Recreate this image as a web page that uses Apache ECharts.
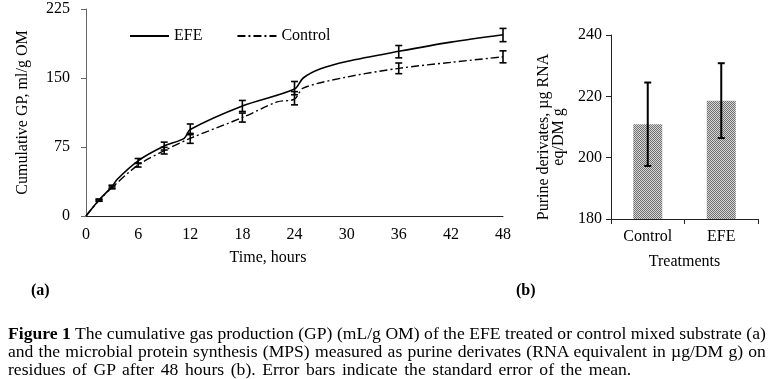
<!DOCTYPE html>
<html>
<head>
<meta charset="utf-8">
<script src="https://cdn.jsdelivr.net/npm/echarts@6/dist/echarts.min.js"></script>
<style>
  html, body { margin: 0; padding: 0; background: #fff; }
  #chart { position: absolute; left: 0; top: 0; width: 771px; height: 379px; }
  .caption {
    position: absolute; left: 8px; top: 325px; width: 689px;
    transform: scaleX(1.1); transform-origin: 0 0;
    font-family: "Liberation Serif", serif; font-size: 16px; line-height: 18px; color: #000;
  }
  .caption div { white-space: nowrap; }
  .caption .j { text-align: justify; text-align-last: justify; }
  .caption .last { word-spacing: 2px; }
</style>
</head>
<body>
<div id="chart"></div>
<div class="caption">
  <div class="j"><b>Figure 1</b> The cumulative gas production (GP) (mL/g OM) of the EFE treated or control mixed substrate (a)</div>
  <div class="j">and the microbial protein synthesis (MPS) measured as purine derivates (RNA equivalent in µg/DM g) on</div>
  <div class="last">residues of GP after 48 hours (b). Error bars indicate the standard error of the mean.</div>
</div>
<script>
// (a) cumulative gas production curves
const efeHours = [0, 1.5, 3, 3.6, 6, 9, 11.3, 12, 18, 24, 25, 27, 30, 36, 42, 48]
const efeGP = [0, 17.4, 32, 40, 60, 76, 84.4, 94, 119.6, 138, 150, 160, 168, 179, 189, 197]
const ctrlHours = [0, 1.5, 3, 6, 9, 12, 18, 22, 24, 25, 30, 36, 42, 48]
const ctrlGP = [0, 17, 31, 55.4, 71, 84.4, 107, 124, 127, 139, 151, 160.5, 167, 173]

// measured points with standard errors
const sampleHours = [1.5, 3, 6, 9, 12, 18, 24, 36, 48]
const efeMean = [17.4, 32, 59.8, 76, 94.2, 119.6, 139, 178.6, 196.7]
const efeSE = [1, 1.5, 2.7, 4.3, 5.8, 6, 7.2, 6.7, 7.2]
const ctrlMean = [17, 31, 55.4, 71, 84.4, 107, 128, 160.5, 173]
const ctrlSE = [1, 1.5, 2.2, 3.6, 5.4, 4.9, 7.2, 5.8, 6.5]

// (b) purine derivates
const treatments = ['Control', 'EFE']
const purine = [210.9, 218.6]
const purineSE = [13.6, 12.2]

const FONT = 'Liberation Serif'
const txt = { color: '#000', fontFamily: FONT, fontSize: 16 }

function pairs(xs, ys) { return xs.map((x, i) => [x, ys[i]]) }
function errRows(xs, m, se) { return xs.map((x, i) => [x, m[i] - se[i], m[i] + se[i]]) }

function errorBar(cap, width) {
  return function (params, api) {
    const top = api.coord([api.value(0), api.value(2)])
    const bot = api.coord([api.value(0), api.value(1)])
    const style = { stroke: '#000', lineWidth: width }
    return {
      type: 'group',
      children: [
        { type: 'line', shape: { x1: top[0], y1: top[1], x2: bot[0], y2: bot[1] }, style },
        { type: 'line', shape: { x1: top[0] - cap, y1: top[1], x2: top[0] + cap, y2: top[1] }, style },
        { type: 'line', shape: { x1: bot[0] - cap, y1: bot[1], x2: bot[0] + cap, y2: bot[1] }, style },
      ],
    }
  }
}

// halftone fill for the bars
const pat = document.createElement('canvas')
pat.width = 2; pat.height = 2
const pc = pat.getContext('2d')
pc.fillStyle = '#d6d6d6'; pc.fillRect(0, 0, 2, 2)
pc.fillStyle = '#707070'; pc.fillRect(0, 0, 1, 1); pc.fillRect(1, 1, 1, 1)

const chart = echarts.init(document.getElementById('chart'))
chart.setOption({
  animation: false,
  textStyle: { fontFamily: FONT },
  grid: [
    { left: 86, top: 9, width: 417, height: 207 },
    { left: 611, top: 35, width: 147, height: 184 },
  ],
  legend: {
    data: ['EFE', 'Control'],
    left: 129, top: 28, padding: 0,
    itemWidth: 39, itemHeight: 14, itemGap: 34,
    itemStyle: { opacity: 0 },
    textStyle: txt,
  },
  xAxis: [
    {
      gridIndex: 0, type: 'value', min: 0, max: 48, interval: 6,
      name: 'Time, hours', nameLocation: 'middle', nameGap: 34,
      nameTextStyle: { ...txt, padding: [0, 53, 0, 0] },
      axisLine: { lineStyle: { color: '#222', width: 1 } },
      axisTick: { show: false },
      axisLabel: { ...txt, margin: 11 },
      splitLine: { show: false },
    },
    {
      gridIndex: 1, type: 'category', data: treatments,
      name: 'Treatments', nameLocation: 'middle', nameGap: 35,
      nameTextStyle: txt,
      axisLine: { lineStyle: { color: '#222', width: 1 } },
      axisTick: { show: true, length: 5, lineStyle: { color: '#222' } },
      axisLabel: { ...txt, margin: 10 },
    },
  ],
  yAxis: [
    {
      gridIndex: 0, type: 'value', min: 0, max: 225, interval: 75,
      name: 'Cumulative GP, ml/g OM', nameLocation: 'middle', nameGap: 55,
      nameTextStyle: txt,
      axisLine: { show: true, lineStyle: { color: '#666', width: 1 } },
      axisTick: { show: true, length: 5, lineStyle: { color: '#666' } },
      axisLabel: { ...txt, margin: 16 },
      splitLine: { show: false },
    },
    {
      gridIndex: 1, type: 'value', min: 180, max: 240, interval: 20,
      name: 'Purine derivates, µg RNA\neq/DM g', nameLocation: 'middle', nameGap: 45,
      nameTextStyle: { ...txt, lineHeight: 15, padding: [0, 20, 0, 0] },
      axisLine: { show: true, lineStyle: { color: '#222', width: 1 } },
      axisTick: { show: true, length: 5, lineStyle: { color: '#222' } },
      axisLabel: { ...txt, margin: 9 },
      splitLine: { show: false },
    },
  ],
  series: [
    {
      name: 'EFE', type: 'line', xAxisIndex: 0, yAxisIndex: 0,
      data: pairs(efeHours, efeGP), smooth: 0.3,
      symbol: 'none', lineStyle: { color: '#000', width: 1.6 },
      itemStyle: { color: '#000' },
    },
    {
      name: 'Control', type: 'line', xAxisIndex: 0, yAxisIndex: 0,
      data: pairs(ctrlHours, ctrlGP), smooth: 0.3,
      symbol: 'none', lineStyle: { color: '#000', width: 1.4, type: [8, 3, 2, 3] },
      itemStyle: { color: '#000' },
    },
    {
      type: 'custom', xAxisIndex: 0, yAxisIndex: 0,
      data: errRows(sampleHours, efeMean, efeSE), renderItem: errorBar(3.5, 1.6), z: 5,
    },
    {
      type: 'custom', xAxisIndex: 0, yAxisIndex: 0,
      data: errRows(sampleHours, ctrlMean, ctrlSE), renderItem: errorBar(3.5, 1.6), z: 5,
    },
    {
      type: 'bar', xAxisIndex: 1, yAxisIndex: 1, data: purine, barWidth: 29,
      itemStyle: { color: { image: pat, repeat: 'repeat' } },
    },
    {
      type: 'custom', xAxisIndex: 1, yAxisIndex: 1,
      data: treatments.map((t, i) => [i, purine[i] - purineSE[i], purine[i] + purineSE[i]]),
      renderItem: errorBar(3.5, 2), z: 5,
    },
  ],
  graphic: [
    { type: 'text', left: 31, top: 283, style: { text: '(a)', font: 'bold 16px "Liberation Serif"', fill: '#000' } },
    { type: 'text', left: 516, top: 283, style: { text: '(b)', font: 'bold 16px "Liberation Serif"', fill: '#000' } },
  ],
})
</script>
</body>
</html>
